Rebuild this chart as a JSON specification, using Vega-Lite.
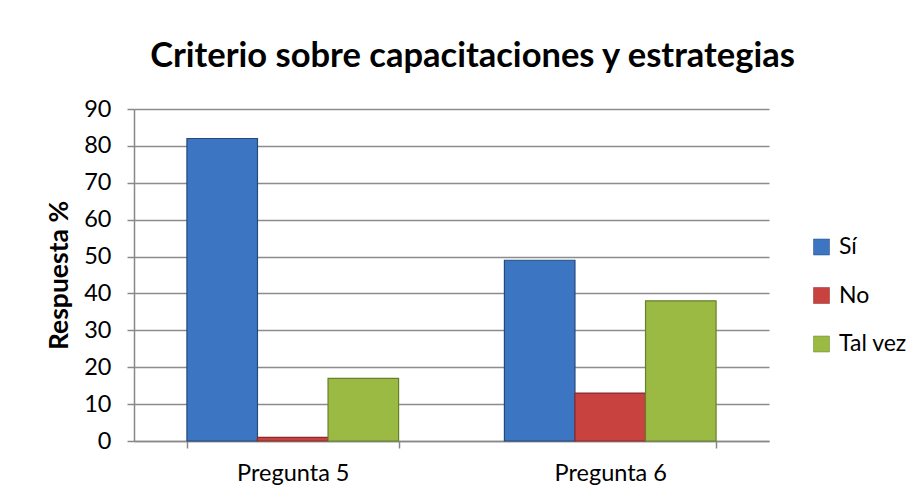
{
  "$schema": "https://vega.github.io/schema/vega-lite/v6.json",
  "width": 635,
  "height": 332,
  "autosize": {"type": "none"},
  "padding": {"left": 134, "top": 109, "right": 150, "bottom": 60},
  "background": "white",
  "title": {
    "text": "Criterio sobre capacitaciones y estrategias",
    "font": "Lato",
    "fontSize": 34.5,
    "fontWeight": "bold",
    "color": "#000000",
    "anchor": "middle",
    "dx": 21,
    "offset": 23
  },
  "data": {
    "values": [
      {"pregunta": "Pregunta 5", "respuesta": "Sí", "valor": 82},
      {"pregunta": "Pregunta 5", "respuesta": "No", "valor": 1},
      {"pregunta": "Pregunta 5", "respuesta": "Tal vez", "valor": 17},
      {"pregunta": "Pregunta 6", "respuesta": "Sí", "valor": 49},
      {"pregunta": "Pregunta 6", "respuesta": "No", "valor": 13},
      {"pregunta": "Pregunta 6", "respuesta": "Tal vez", "valor": 38}
    ]
  },
  "mark": {"type": "bar", "strokeWidth": 1.2},
  "encoding": {
    "x": {
      "field": "pregunta",
      "type": "nominal",
      "scale": {"paddingInner": 0.3333, "paddingOuter": 0.1667},
      "axis": {
        "title": null,
        "labelAngle": 0,
        "labelFont": "Lato",
        "labelFontSize": 23.5,
        "labelColor": "#000000",
        "labelPadding": 13,
        "tickBand": "extent",
        "tickSize": 7,
        "tickColor": "#888888",
        "tickWidth": 1.5,
        "domainColor": "#888888",
        "domainWidth": 1.5
      }
    },
    "xOffset": {"field": "respuesta", "sort": ["Sí", "No", "Tal vez"]},
    "y": {
      "field": "valor",
      "type": "quantitative",
      "scale": {"domain": [0, 90], "nice": false},
      "axis": {
        "title": "Respuesta %",
        "titleFont": "Lato",
        "titleFontSize": 26.5,
        "titleFontWeight": "bold",
        "titleColor": "#000000",
        "titlePadding": 10,
        "values": [0, 10, 20, 30, 40, 50, 60, 70, 80, 90],
        "labelFont": "Lato",
        "labelFontSize": 23.5,
        "labelColor": "#000000",
        "labelPadding": 16,
        "tickSize": 7,
        "tickColor": "#888888",
        "tickWidth": 1.5,
        "domainColor": "#888888",
        "domainWidth": 1.5,
        "grid": true,
        "gridColor": "#8c8c8c",
        "gridWidth": 1.5
      }
    },
    "color": {
      "field": "respuesta",
      "type": "nominal",
      "sort": ["Sí", "No", "Tal vez"],
      "scale": {"domain": ["Sí", "No", "Tal vez"], "range": ["#3C76C2", "#C8423F", "#9BBA44"]},
      "legend": {
        "title": null,
        "orient": "none",
        "legendX": 676,
        "legendY": 126.5,
        "labelFont": "Lato",
        "labelFontSize": 23,
        "labelColor": "#000000",
        "symbolType": "square",
        "symbolSize": 256,
        "symbolStrokeColor": "#444444",
        "symbolStrokeWidth": 0.5,
        "rowPadding": 24.5,
        "labelOffset": 6
      }
    },
    "stroke": {
      "field": "respuesta",
      "type": "nominal",
      "scale": {"domain": ["Sí", "No", "Tal vez"], "range": ["#24497A", "#8A2B29", "#67802C"]},
      "legend": null
    }
  },
  "config": {"view": {"stroke": null}}
}
